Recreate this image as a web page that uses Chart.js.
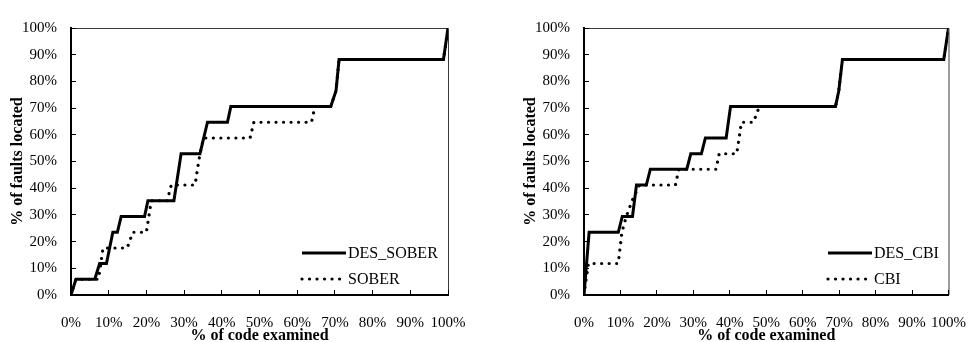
<!DOCTYPE html>
<html>
<head>
<meta charset="utf-8">
<script src="https://cdn.jsdelivr.net/npm/chart.js@4/dist/chart.umd.min.js"></script>
<style>
  html, body { margin: 0; padding: 0; background: #fff; overflow: hidden; width: 979px; height: 342px; }
  .panel { position: absolute; top: 0; height: 342px; }
</style>
</head>
<body>
<div class="panel" style="left:0;width:490px"><canvas id="chartSober" width="490" height="342"></canvas></div>
<div class="panel" style="left:490px;width:500px"><canvas id="chartCbi" width="500" height="342"></canvas></div>
<script>
// Cumulative fault-localisation curves: % of code examined vs % of faults located.
const tickValues = [0, 10, 20, 30, 40, 50, 60, 70, 80, 90, 100];
const xTitle = '% of code examined';
const yTitle = '% of faults located';

// Left panel: DES_SOBER vs SOBER
const desSoberX = [0, 1.3, 6.3, 7.6, 9.4, 11.1, 12.3, 13.3, 19.5, 20.4, 27.3, 29.2, 34.2, 36.2, 41.5, 42.4, 68.9, 70.3, 71.1, 98.8, 100];
const desSoberY = [0, 5.9, 5.9, 11.8, 11.8, 23.5, 23.5, 29.4, 29.4, 35.3, 35.3, 52.9, 52.9, 64.7, 64.7, 70.6, 70.6, 76.5, 88.2, 88.2, 100];
const soberX = [0, 1.3, 7.3, 8.5, 14.9, 16.4, 20.0, 21.3, 25.5, 26.6, 32.9, 34.2, 35.2, 47.5, 48.5, 63.8, 64.7, 68.9, 70.3, 71.1, 98.8, 100];
const soberY = [0, 5.9, 5.9, 17.6, 17.6, 23.5, 23.5, 35.3, 35.3, 41.2, 41.2, 52.9, 58.8, 58.8, 64.7, 64.7, 70.6, 70.6, 76.5, 88.2, 88.2, 100];

// Right panel: DES_CBI vs CBI
const desCbiX = [0, 1.4, 9.4, 10.5, 13.3, 14.4, 17.1, 18.2, 28.2, 29.3, 32.2, 33.3, 39.0, 40.2, 69.0, 69.9, 70.9, 98.7, 100];
const desCbiY = [0, 23.5, 23.5, 29.4, 29.4, 41.2, 41.2, 47.1, 47.1, 52.9, 52.9, 58.8, 58.8, 70.6, 70.6, 76.5, 88.2, 88.2, 100];
const cbiX = [0, 1.2, 9.4, 10.4, 11.6, 13.2, 15.2, 25.1, 26.0, 36.2, 37.1, 41.9, 43.2, 46.5, 48.1, 69.0, 69.9, 70.9, 98.7, 100];
const cbiY = [0, 11.8, 11.8, 23.5, 29.4, 35.3, 41.2, 41.2, 47.1, 47.1, 52.9, 52.9, 64.7, 64.7, 70.6, 70.6, 76.5, 88.2, 88.2, 100];

const FONT = '"Liberation Serif", "Times New Roman", serif';

function points(xs, ys) {
  return xs.map((x, i) => ({ x: x, y: ys[i] }));
}

function solidSeries(label, xs, ys) {
  return {
    label: label, data: points(xs, ys),
    borderColor: '#000', borderWidth: 3, borderCapStyle: 'butt', borderJoinStyle: 'miter',
    pointRadius: 0, showLine: true, tension: 0
  };
}

function dottedSeries(label, xs, ys) {
  return {
    label: label, data: points(xs, ys),
    borderColor: '#000', borderWidth: 3.2, borderDash: [0.01, 7.5], borderCapStyle: 'round',
    pointRadius: 0, showLine: true, tension: 0
  };
}

// thin frame along the top and right edges of the plot area
const frameLines = {
  id: 'frameLines',
  beforeDraw(chart) {
    const { ctx, chartArea: a } = chart;
    ctx.save();
    ctx.strokeStyle = '#3a3a3a';
    ctx.lineWidth = 1;
    ctx.beginPath();
    ctx.moveTo(a.left, a.top + 0.5);
    ctx.lineTo(a.right + 0.5, a.top + 0.5);
    ctx.lineTo(a.right + 0.5, a.bottom);
    ctx.stroke();
    ctx.restore();
  }
};

// key drawn inside the lower-right corner of the plot area
const insetKey = {
  id: 'insetKey',
  afterDraw(chart, args, opts) {
    const { ctx, chartArea: a } = chart;
    chart.data.datasets.forEach((ds, i) => {
      const x = a.left + opts.x;
      const y = a.bottom - opts.rows[i];
      ctx.save();
      ctx.strokeStyle = ds.borderColor;
      ctx.lineWidth = ds.borderWidth;
      ctx.lineCap = ds.borderCapStyle || 'butt';
      ctx.setLineDash(ds.borderDash || []);
      ctx.beginPath();
      ctx.moveTo(x, y);
      ctx.lineTo(x + opts.len, y);
      ctx.stroke();
      ctx.setLineDash([]);
      ctx.fillStyle = '#000';
      ctx.font = '16px ' + FONT;
      ctx.textBaseline = 'middle';
      ctx.textAlign = 'left';
      ctx.fillText(ds.label, x + opts.len + 2, y + 1);
      ctx.restore();
    });
  }
};

function makeChart(id, datasets, padLeft, padRight, keyX) {
  return new Chart(document.getElementById(id), {
    type: 'scatter',
    data: { datasets: datasets },
    plugins: [frameLines, insetKey],
    options: {
      responsive: false,
      animation: false,
      layout: { padding: { top: 21, right: padRight, bottom: 0, left: padLeft } },
      plugins: {
        legend: { display: false },
        tooltip: { enabled: false },
        insetKey: { x: keyX, rows: [42, 16], len: 44 }
      },
      scales: {
        x: {
          type: 'linear', min: 0, max: 100,
          afterFit(s) { s.height = 47; },
          afterBuildTicks(s) { s.ticks = tickValues.map(v => ({ value: v })); },
          border: { display: true, color: '#000', width: 2 },
          grid: { drawOnChartArea: false, drawTicks: true, tickLength: -5, color: '#000', lineWidth: 1 },
          ticks: {
            maxRotation: 0, autoSkip: false, padding: 24, color: '#000',
            font: { family: FONT, size: 15 },
            callback: v => v + '%'
          },
          title: {
            display: true, text: xTitle, color: '#000',
            font: { family: FONT, size: 16, weight: 'bold', lineHeight: 0.8 },
            padding: { top: 0, bottom: 0 }
          }
        },
        y: {
          type: 'linear', min: 0, max: 100,
          afterFit(s) { s.width = 71; },
          afterBuildTicks(s) { s.ticks = tickValues.map(v => ({ value: v })); },
          border: { display: true, color: '#000', width: 2 },
          grid: { drawOnChartArea: false, drawTicks: true, tickLength: -5, color: '#000', lineWidth: 1 },
          ticks: {
            autoSkip: false, padding: 19, color: '#000',
            font: { family: FONT, size: 15 },
            callback: v => v + '%'
          },
          title: {
            display: true, text: yTitle, color: '#000',
            font: { family: FONT, size: 16, weight: 'bold', lineHeight: 1.2 },
            padding: { top: 8, bottom: 0 }
          }
        }
      }
    }
  });
}

makeChart('chartSober',
  [solidSeries('DES_SOBER', desSoberX, desSoberY), dottedSeries('SOBER', soberX, soberY)],
  0, 42, 231);

makeChart('chartCbi',
  [solidSeries('DES_CBI', desCbiX, desCbiY), dottedSeries('CBI', cbiX, cbiY)],
  23, 30, 244);
</script>
</body>
</html>
